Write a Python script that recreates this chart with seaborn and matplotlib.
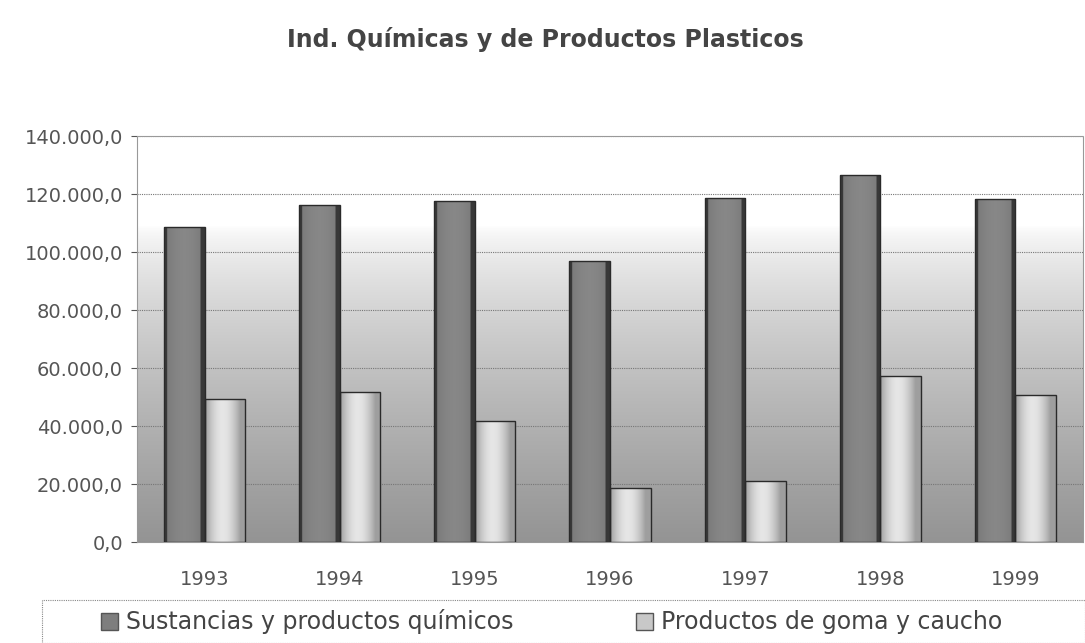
import numpy as np
import pandas as pd
import matplotlib
matplotlib.use("Agg")
import matplotlib.pyplot as plt
import seaborn as sns
from matplotlib.patches import Rectangle, Patch
from matplotlib.ticker import FuncFormatter, MultipleLocator

years = ["1993", "1994", "1995", "1996", "1997", "1998", "1999"]
sustancias = [108600, 116200, 117600, 96900, 118700, 126500, 118300]
goma = [49300, 51700, 41700, 18600, 21000, 57200, 50700]
series_names = ["Sustancias y productos químicos", "Productos de goma y caucho"]
title = "Ind. Químicas y de Productos Plasticos"

df = pd.DataFrame({
    "year": years * 2,
    "value": sustancias + goma,
    "serie": [series_names[0]] * len(years) + [series_names[1]] * len(years),
})

sns.set_style("white")
plt.rcParams['font.family'] = ['DejaVu Sans']

W, H = 1085, 643
fig = plt.figure(figsize=(W / 100, H / 100), dpi=100)
ax = fig.add_axes([137 / W, 1 - 542 / H, (1083 - 137) / W, (542 - 136) / H])

# gradient background: white at top, grey at bottom
t = np.linspace(0, 1, 256).reshape(-1, 1)
vals = 1.0 - 0.42 * np.clip((t - 0.22) / 0.78, 0, 1) ** 0.7
img = np.dstack([vals, vals, vals])
ax.imshow(img, extent=[-0.5, 6.5, 0, 140000], aspect='auto', origin='upper', zorder=0)

palette = {series_names[0]: "#7e7e7e", series_names[1]: "#c8c8c8"}
sns.barplot(data=df, x="year", y="value", hue="serie", palette=palette,
            width=0.6, gap=0.0, ax=ax, legend=False, zorder=3,
            edgecolor="#2a2a2a", linewidth=1.0, saturation=1)

# cylinder-like shading clipped to bars
xg = np.linspace(0, 1, 64)
for patch in list(ax.patches):
    if not isinstance(patch, Rectangle) or patch.get_height() <= 0:
        continue
    x0, w, h = patch.get_x(), patch.get_width(), patch.get_height()
    fc = patch.get_facecolor()[0]
    if fc > 0.7:
        row = 0.62 + 0.28 * np.sin(np.pi * np.clip(xg * 1.15, 0, 1)) ** 0.9
    else:
        row = 0.47 + 0.06 * np.sin(np.pi * xg)
        row[:5] = 0.22
        row[-7:] = 0.22
    g = np.dstack([row, row, row]).reshape(1, -1, 3)
    im = ax.imshow(g, extent=[x0, x0 + w, 0, h], aspect='auto', zorder=3.5)
    im.set_clip_path(patch)
    patch.set_facecolor("none")
    patch.set_zorder(4)

ax.set_xlim(-0.5, 6.5)
ax.set_ylim(0, 140000)
ax.yaxis.set_major_locator(MultipleLocator(20000))
fmt = lambda v, p: f"{v:,.1f}".replace(",", "X").replace(".", ",").replace("X", ".")
ax.yaxis.set_major_formatter(FuncFormatter(fmt))
ax.grid(axis='y', color="#777777", linestyle=(0, (1, 1)), linewidth=0.8)
for line in ax.get_ygridlines():
    line.set_zorder(1)
ax.set_xlabel("")
ax.set_ylabel("")
for s in ax.spines.values():
    s.set_color("#999999")
    s.set_linestyle((0, (1, 1)))
    s.set_linewidth(0.8)
ax.tick_params(axis='y', labelsize=14, colors="#555555", length=4, pad=6, left=True)
ax.tick_params(axis='x', labelsize=14, colors="#555555", length=0, pad=20)

fig.text(545 / W, 1 - 40 / H, title, ha='center', va='center', fontsize=17,
         fontweight='bold', color="#444444")

# legend frame
fig.patches.append(Rectangle((42 / W, 0), (W - 42) / W, 43 / H, transform=fig.transFigure,
                             fill=False, edgecolor="#888888", linestyle=(0, (1, 1)), linewidth=0.8))
handles = [Patch(facecolor=palette[n], edgecolor="#555555") for n in series_names]
fig.legend(handles, series_names, loc='center left', ncol=2, frameon=False,
           bbox_to_anchor=(80 / W, 1 - 622 / H), fontsize=17, handlelength=0.7,
           handleheight=0.7, handletextpad=0.35, columnspacing=5.2, labelcolor="#444444")

fig.savefig("out.png", dpi=100)
